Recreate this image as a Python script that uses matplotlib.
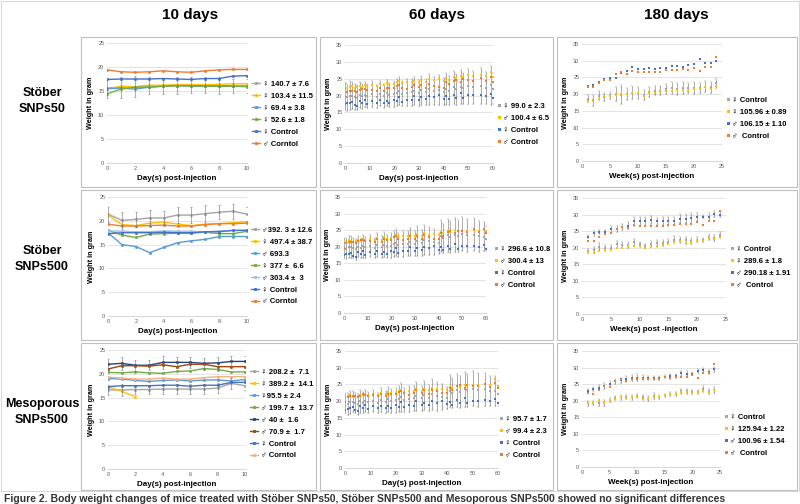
import matplotlib.pyplot as plt
from matplotlib.patches import Rectangle

plt.rcParams["font.family"] = ["Liberation Sans", "DejaVu Sans"]

# ---------------- data ----------------
days10 = [0, 1, 2, 3, 4, 5, 6, 7, 8, 9, 10]

# Stober SNPs50, 10 days
s50_labels = ["♀ 140.7 ± 7.6", "♀ 103.4 ± 11.5", "♀ 69.4 ± 3.8", "♀ 52.6 ± 1.8", "♀ Control", "♂ Corntol"]
s50_gray = [15.6, 15.8, 15.9, 16.1, 16.1, 16.2, 16.2, 16.2, 16.1, 16.0, 16.0]
s50_gray_err = [2.0, 2.2, 2.2, 1.8, 1.7, 1.8, 1.7, 1.7, 1.8, 1.5, 1.4]
s50_yellow = [15.4, 16.0, 15.8, 16.2, 16.2, 16.3, 16.3, 16.3, 16.4, 16.5, 16.5]
s50_lblue = [15.5, 15.6, 15.4, 15.8, 16.0, 16.1, 16.0, 16.0, 16.1, 16.0, 16.0]
s50_green = [14.4, 15.4, 15.8, 15.8, 16.0, 16.1, 16.1, 16.0, 16.0, 16.0, 15.9]
s50_fctrl = [17.4, 17.5, 17.5, 17.5, 17.6, 17.5, 17.4, 17.6, 17.6, 18.1, 18.2]
s50_mctrl = [19.4, 19.0, 18.9, 19.0, 19.2, 19.0, 18.9, 19.2, 19.4, 19.5, 19.5]

# Stober SNPs500, 10 days
s500_labels = ["♂392. 3 ± 12.6", "♀ 497.4 ± 38.7", "♂ 693.3", "♀ 377 ±  6.6", "♂ 303.4 ±  3", "♀ Control", "♂ Corntol"]
s500_gray = [21.4, 20.1, 20.3, 20.6, 20.6, 21.2, 21.2, 21.5, 21.8, 22.0, 21.4]
s500_gray_err = [1.6, 1.8, 1.6, 1.6, 1.5, 1.6, 1.6, 1.8, 1.5, 1.6, 1.4]
s500_yellow = [21.2, 19.2, 19.0, 19.5, 19.7, 19.3, 19.0, 19.3, 19.4, 19.6, 19.8]
s500_blue = [17.5, 15.0, 14.6, 13.3, 14.4, 15.4, 15.8, 16.1, 16.7, 16.7, 16.7]
s500_green = [18.0, 17.0, 16.5, 17.2, 17.3, 17.4, 17.4, 17.6, 17.3, 17.3, 17.8]
s500_lblue = [17.9, 17.8, 17.7, 17.7, 17.9, 17.8, 17.8, 17.6, 17.9, 17.9, 18.0]
s500_fctrl = [17.3, 17.5, 17.5, 17.5, 17.6, 17.5, 17.5, 17.7, 17.7, 18.0, 18.0]
s500_mctrl = [19.3, 18.9, 18.9, 19.0, 19.1, 18.9, 18.9, 19.2, 19.4, 19.4, 19.5]

# Mesoporous SNPs500, 10 days
m500_labels = ["♀ 208.2 ±  7.1", "♀ 389.2 ±  14.1", "♀95.5 ± 2.4", "♂ 199.7 ±  13.7",
               "♂ 40 ±  1.6", "♂ 70.9 ±  1.7", "♀ Control", "♂ Corntol"]
m500_gray = [16.6, 16.6, 16.7, 16.7, 16.8, 16.8, 16.8, 16.8, 17.0, 18.0, 17.5]
m500_gray_err = [1.0, 1.2, 1.0, 1.0, 1.1, 1.0, 1.0, 1.0, 1.0, 1.2, 1.0]
m500_yellow_days = [0, 1, 2]
m500_yellow = [17.3, 16.3, 15.2]
m500_lblue = [19.0, 18.9, 18.6, 18.4, 18.6, 18.7, 18.5, 18.7, 18.7, 18.5, 18.8]
m500_green = [20.3, 20.2, 20.4, 20.2, 20.1, 20.5, 20.6, 21.1, 20.9, 20.4, 20.4]
m500_dblue = [22.0, 22.2, 21.8, 21.8, 22.4, 22.4, 22.4, 22.2, 22.3, 22.6, 22.6]
m500_dblue_err = [1.2, 1.3, 1.2, 1.1, 1.3, 1.2, 1.2, 1.1, 1.2, 1.1, 1.1]
m500_brown = [21.0, 21.7, 21.7, 21.6, 21.9, 21.5, 22.0, 22.0, 21.5, 21.5, 21.5]
m500_fctrl = [17.3, 17.5, 17.5, 17.5, 17.6, 17.6, 17.4, 17.6, 17.6, 18.2, 18.2]
m500_mctrl = [19.3, 19.1, 18.9, 18.9, 19.1, 18.9, 18.9, 19.2, 19.4, 19.4, 19.4]

# 60 days
days60 = [0, 1, 2, 3, 4, 5, 6, 7, 8, 9, 11, 13, 14, 16, 17, 18, 20, 21, 22, 23, 25,
          27, 28, 30, 31, 33, 34, 36, 38, 40, 41, 42, 44, 45, 47, 48, 50, 52, 55, 57, 59, 60]
fctrl60 = [17.4, 17.7, 17.9, 18.1, 17.3, 17.0, 18.4, 17.9, 18.8, 17.6, 18.5, 17.8, 18.6, 17.8,
           18.4, 17.9, 18.7, 18.3, 19.6, 18.1, 18.8, 18.6, 19.9, 18.7, 19.5, 18.9, 20.0, 19.5,
           20.1, 19.0, 19.8, 18.9, 20.3, 19.4, 20.8, 19.4, 20.1, 20.1, 20.2, 20.0, 20.5, 19.4]
mctrl60 = [19.6, 21.1, 21.4, 21.4, 21.5, 21.1, 21.6, 22.0, 21.9, 21.6, 21.8, 21.5, 22.2, 21.4,
           22.2, 22.1, 22.1, 22.8, 23.1, 22.3, 21.9, 22.4, 23.2, 22.4, 23.2, 22.2, 23.4, 22.9,
           22.4, 22.3, 24.0, 23.3, 24.4, 24.7, 24.0, 24.8, 24.6, 24.4, 25.2, 24.3, 25.4, 24.0]

s50_60_labels = ["♀ 99.0 ± 2.3", "♂ 100.4 ± 6.5", "♀ Control", "♂ Control"]
s50_60_f = [19.8, 19.5, 19.9, 20.0, 19.6, 19.4, 20.1, 19.8, 20.3, 19.9, 20.4, 19.6, 20.6, 19.9,
            20.8, 20.2, 20.4, 20.9, 21.3, 20.5, 20.9, 21.0, 21.4, 20.8, 21.6, 21.0, 21.9, 21.4,
            21.6, 21.2, 22.0, 21.5, 22.4, 21.9, 22.6, 22.1, 22.8, 22.5, 22.9, 22.3, 23.1, 22.0]
s50_60_ferr = [4.2, 4.0, 4.3, 4.1, 3.8, 3.6, 3.9, 3.7, 3.8, 3.6, 3.9, 3.4, 3.8, 3.5, 3.9, 3.6,
               3.8, 3.9, 4.1, 3.7, 3.9, 4.0, 4.2, 3.8, 4.3, 3.9, 4.6, 4.2, 4.4, 3.9, 4.8, 4.4,
               5.0, 4.6, 5.1, 4.7, 5.2, 4.9, 5.4, 4.8, 5.8, 4.6]
s50_60_m = [22.6, 22.3, 22.5, 22.7, 22.2, 22.4, 22.8, 22.6, 23.0, 22.8, 23.2, 22.9, 23.4, 23.1,
            23.6, 23.3, 23.5, 23.9, 24.2, 23.6, 24.0, 24.1, 24.4, 24.0, 24.6, 24.1, 24.9, 24.5,
            24.8, 24.4, 25.1, 24.7, 25.5, 25.2, 25.8, 25.4, 26.1, 25.8, 26.2, 25.9, 27.1, 25.5]

s500_60_labels = ["♀ 296.6 ± 10.8", "♂ 300.4 ± 13", "♀ Control", "♂ Control"]
s500_60_f = [19.6, 19.4, 19.8, 19.9, 19.5, 19.2, 20.0, 19.7, 20.1, 19.8, 20.2, 19.5, 20.4, 19.8,
             20.6, 20.1, 20.3, 20.8, 21.2, 20.4, 20.7, 20.9, 21.5, 20.9, 21.8, 21.1, 22.1, 21.6,
             21.4, 21.0, 23.2, 22.6, 23.4, 23.0, 23.6, 23.3, 23.8, 23.4, 23.6, 23.1, 23.0, 22.4]
s500_60_ferr = [3.0, 3.1, 3.3, 3.2, 3.0, 3.1, 3.2, 3.0, 3.4, 3.2, 3.3, 3.0, 3.6, 3.3, 3.8, 3.4,
                3.7, 3.9, 4.1, 3.6, 3.9, 3.8, 4.2, 3.8, 4.5, 3.9, 4.6, 4.2, 3.8, 3.2, 4.8, 4.4,
                5.0, 4.8, 5.1, 4.9, 5.2, 5.0, 5.0, 4.6, 4.4, 3.8]
s500_60_m = [21.8, 21.5, 21.9, 21.7, 21.4, 21.6, 22.0, 21.8, 22.2, 21.9, 22.3, 22.0, 22.5, 22.1,
             22.8, 22.4, 22.6, 23.0, 23.4, 22.8, 23.1, 23.2, 23.6, 23.1, 23.8, 23.3, 24.0, 23.6,
             23.8, 23.4, 24.4, 24.0, 24.6, 24.3, 24.9, 24.6, 25.0, 24.8, 25.1, 24.8, 25.3, 24.6]

m500_60_labels = ["♀ 95.7 ± 1.7", "♂ 99.4 ± 2.3", "♀ Control", "♂ Control"]
m500_60_f = [19.4, 19.2, 19.6, 19.8, 19.4, 19.0, 19.9, 19.5, 20.0, 19.6, 20.1, 19.4, 20.3, 19.7,
             20.5, 20.0, 20.2, 20.7, 21.1, 20.3, 20.6, 20.8, 21.4, 20.8, 21.7, 21.0, 22.0, 21.5,
             21.3, 20.9, 23.0, 22.4, 23.2, 22.8, 23.5, 23.2, 23.7, 23.3, 23.5, 23.0, 22.9, 22.2]
m500_60_ferr = [3.0, 3.2, 3.3, 3.1, 3.0, 3.0, 3.3, 3.1, 3.3, 3.2, 3.2, 3.0, 3.5, 3.3, 3.8, 3.5,
                3.6, 3.9, 4.2, 3.6, 3.8, 3.8, 4.3, 3.8, 4.4, 3.9, 4.6, 4.3, 3.8, 3.2, 4.8, 4.5,
                5.0, 4.8, 5.2, 4.9, 5.2, 5.1, 5.0, 4.6, 4.5, 3.8]
m500_60_m = [21.6, 21.4, 21.7, 21.6, 21.3, 21.5, 21.9, 21.7, 22.1, 21.8, 22.2, 21.9, 22.4, 22.0,
             22.7, 22.3, 22.5, 22.9, 23.3, 22.7, 23.0, 23.1, 23.5, 23.0, 23.7, 23.2, 23.9, 23.5,
             23.7, 23.3, 24.3, 23.9, 24.5, 24.2, 24.8, 24.5, 24.9, 24.7, 25.0, 24.7, 26.6, 24.5]

# 180 days (weeks)
weeks = [1, 2, 3, 4, 5, 6, 7, 8, 9, 10, 11, 12, 13, 14, 15, 16, 17, 18, 19, 20, 21, 22, 23, 24]

s50_180_labels = ["♀ Control", "♀ 105.96 ± 0.89", "♂ 106.15 ± 1.10", "♂  Control"]
s50_180_fc = [18.6, 18.2, 19.5, 19.2, 19.6, 20.0, 19.8, 20.0, 20.4, 20.2, 19.8, 20.6,
              21.0, 21.0, 21.6, 21.8, 21.6, 21.8, 21.8, 21.8, 21.8, 22.2, 22.0, 23.2]
s50_180_fc_err = [1.0, 1.6, 1.4, 1.2, 1.0, 2.0, 2.8, 1.8, 2.0, 1.8, 1.5, 1.6,
                  1.4, 1.4, 1.5, 1.8, 1.8, 1.8, 1.6, 1.8, 1.6, 1.6, 1.6, 1.4]
s50_180_ft = [18.0, 17.9, 18.4, 19.4, 19.4, 19.8, 20.1, 20.0, 20.2, 20.2, 19.5, 20.3,
              20.3, 20.6, 20.8, 20.9, 21.1, 21.2, 21.0, 21.6, 21.6, 22.0, 21.6, 22.5]
s50_180_mt = [22.5, 22.8, 23.7, 24.5, 24.8, 24.9, 26.3, 26.9, 28.0, 27.6, 27.6, 27.8,
              27.5, 27.8, 27.9, 28.4, 28.4, 28.2, 28.7, 29.0, 30.4, 29.2, 29.3, 29.8]
s50_180_mc = [22.1, 22.0, 23.2, 24.3, 24.3, 26.0, 26.5, 26.0, 26.8, 26.5, 26.6, 26.6,
              26.6, 26.6, 27.1, 27.1, 27.2, 27.4, 27.3, 27.8, 26.8, 28.0, 28.2, 31.0]

s500_180_labels = ["♀ Control", "♀ 289.6 ± 1.8", "♂ 290.18 ± 1.91", "♂  Control"]
s500_180_fc = [19.0, 19.3, 20.3, 19.9, 20.0, 21.0, 20.8, 20.8, 21.6, 21.0, 20.5, 21.2,
               21.3, 21.4, 21.8, 22.4, 22.2, 22.2, 22.0, 22.4, 22.2, 23.2, 22.9, 23.8]
s500_180_fc_err = [0.7, 0.9, 1.0, 0.8, 0.8, 1.0, 1.0, 0.8, 1.0, 0.8, 0.7, 0.8,
                   1.0, 0.9, 0.8, 1.0, 0.9, 1.0, 1.0, 0.8, 0.6, 0.9, 0.8, 1.0]
s500_180_ft = [18.7, 18.5, 19.0, 19.3, 19.4, 19.8, 20.0, 20.4, 20.5, 20.4, 20.0, 20.3,
               20.5, 20.8, 21.2, 21.8, 22.0, 21.5, 21.8, 22.4, 22.0, 23.0, 22.6, 23.2]
s500_180_mt = [23.3, 24.3, 24.6, 24.8, 25.5, 25.6, 26.3, 26.7, 28.0, 28.0, 28.0, 28.3,
               28.0, 28.0, 28.0, 28.2, 28.8, 28.8, 29.0, 29.3, 29.4, 29.4, 30.2, 30.0]
s500_180_mt_err = [0.5, 0.7, 0.6, 0.6, 1.0, 0.9, 1.0, 1.2, 1.3, 1.3, 1.4, 1.2,
                   1.0, 1.2, 1.3, 1.2, 1.4, 1.4, 1.5, 1.2, 0.5, 1.0, 0.8, 0.8]
s500_180_mc = [22.0, 22.0, 23.1, 24.2, 24.3, 25.7, 26.4, 25.8, 26.8, 26.6, 26.7, 26.6,
               26.7, 26.6, 27.0, 27.0, 27.2, 27.3, 27.2, 27.9, 26.8, 28.2, 28.2, 31.0]

m500_180_labels = ["♀ Control", "♀ 125.94 ± 1.22", "♂ 100.96 ± 1.54", "♂  Control"]
m500_180_fc = [19.2, 19.2, 19.4, 19.3, 20.2, 20.8, 21.0, 21.0, 21.0, 21.4, 21.0, 20.6,
               21.4, 21.2, 21.6, 22.0, 22.0, 22.8, 22.8, 22.6, 22.6, 23.5, 22.8, 23.2]
m500_180_fc_err = [0.7, 0.6, 1.0, 0.9, 0.5, 0.6, 0.7, 0.6, 0.7, 0.7, 0.8, 0.8,
                   0.8, 0.6, 0.5, 0.6, 0.5, 0.8, 0.7, 0.5, 0.6, 1.0, 0.8, 0.8]
m500_180_ft = [19.5, 19.3, 19.8, 19.2, 20.2, 20.6, 21.2, 20.8, 21.0, 21.2, 20.4, 20.6,
               21.0, 21.2, 21.6, 22.0, 22.0, 22.5, 22.5, 22.4, 22.3, 23.0, 22.6, 23.2]
m500_180_mt = [22.9, 23.4, 23.9, 24.5, 25.0, 25.8, 26.2, 26.6, 26.8, 27.0, 26.9, 26.8,
               27.0, 26.8, 27.3, 27.4, 27.5, 28.3, 28.2, 28.2, 29.0, 29.2, 28.7, 29.5]
m500_180_mt_err = [0.5, 0.6, 0.8, 0.9, 1.0, 0.8, 0.8, 1.0, 1.0, 1.0, 0.8, 0.7,
                   0.6, 0.6, 0.5, 0.7, 0.6, 0.8, 0.7, 0.5, 0.5, 0.8, 0.6, 0.7]
m500_180_mc = [22.2, 22.0, 23.3, 24.4, 24.2, 25.9, 26.5, 26.0, 26.7, 26.5, 26.5, 26.6,
               26.5, 26.6, 27.1, 27.0, 27.2, 27.3, 27.2, 27.9, 26.8, 28.3, 28.5, 31.0]

col_titles = ["10 days", "60 days", "180 days"]
row_titles = ["Stöber\nSNPs50", "Stöber\nSNPs500", "Mesoporous\nSNPs500"]

# Excel-like colours
GRAY, YELLOW, BLUE, ORANGE = "#A5A5A5", "#FFC000", "#4472C4", "#ED7D31"
LBLUE, GREEN, DBLUE, BROWN = "#5B9BD5", "#70AD47", "#264478", "#9E480E"
ERR = "#6E6E6E"

W, H = 800, 504
fig = plt.figure(figsize=(8, 5.04), dpi=100, facecolor="white")


def px_axes(l, t, r, b):
    return fig.add_axes([l / W, 1 - b / H, (r - l) / W, (b - t) / H])


def style(ax, xmax, ymax, xlabel, xstep):
    ax.set_xlim(0, xmax)
    ax.set_ylim(0, ymax)
    ax.set_xticks(range(0, xmax + 1, xstep))
    ax.set_yticks(range(0, ymax + 1, 5))
    ax.grid(axis="y", color="#D9D9D9", lw=0.5)
    ax.set_axisbelow(True)
    for s in ["top", "right", "left"]:
        ax.spines[s].set_visible(False)
    ax.spines["bottom"].set_color("#D9D9D9")
    ax.tick_params(length=0, labelsize=4, labelcolor="#595959", pad=2)
    ax.set_ylabel("Weight in gram", fontsize=5.2, fontweight="bold", labelpad=3)
    ax.set_xlabel(xlabel, fontsize=5.8, fontweight="bold", labelpad=3)


def legend(ax, x, y, lines=True):
    ax.legend(loc="center left", bbox_to_anchor=(x / W, 1 - y / H),
              bbox_transform=fig.transFigure, frameon=False, markerscale=1.2,
              prop={"size": 5.5, "weight": "bold"}, handlelength=1.1 if lines else 0.5,
              handletextpad=0.35, labelspacing=0.6, borderaxespad=0, borderpad=0)


def panel10(box, series, labels, err, leg_xy, xlabel="Day(s) post-injection"):
    ax = px_axes(*box)
    for (x, y, c), lab in zip(series, labels):
        ax.plot(x, y, color=c, lw=1, marker="s", ms=1.0, label=lab)
    for x, y, e in err:
        ax.errorbar(x, y, yerr=e, fmt="none", ecolor=ERR, elinewidth=0.4, capsize=1, capthick=0.4)
    style(ax, 10, 25, xlabel, 2)
    legend(ax, *leg_xy)


def panel_pts(box, series, labels, err, leg_xy, xmax, xstep, xlabel):
    ax = px_axes(*box)
    for x, y, e in err:
        ax.errorbar(x, y, yerr=e, fmt="none", ecolor=ERR, elinewidth=0.4, capsize=0.7, capthick=0.3)
    for (x, y, c), lab in zip(series, labels):
        ax.plot(x, y, ls="none", color=c, marker="s", ms=1.8, mew=0, label=lab)
    style(ax, xmax, 35, xlabel, xstep)
    legend(ax, *leg_xy, lines=False)


# ---------------- frames and titles ----------------
frames_x = [(81, 316), (320, 553), (557, 797)]
frames_y = [(37, 187), (190, 340), (343, 490)]
for fx0, fx1 in frames_x:
    for fy0, fy1 in frames_y:
        fig.patches.append(Rectangle((fx0 / W, 1 - fy1 / H), (fx1 - fx0) / W, (fy1 - fy0) / H,
                                     transform=fig.transFigure, fill=False, ec="#BFBFBF", lw=0.8))
fig.patches.append(Rectangle((1 / W, 1 - 491 / H), 798 / W, 490 / H, transform=fig.transFigure,
                             fill=False, ec="#D0D0D0", lw=0.6))

for title, cx in zip(col_titles, [190, 437, 676]):
    fig.text(cx / W, 1 - 15 / H, title, ha="center", va="center", fontsize=11, fontweight="bold")
for title, cy in zip(row_titles, [101, 259, 412]):
    fig.text(42 / W, 1 - cy / H, title, ha="center", va="center", fontsize=9,
             fontweight="bold", linespacing=1.35)

# ---------------- 10 day panels ----------------
panel10((107, 43, 247, 163),
        [(days10, s50_gray, GRAY), (days10, s50_yellow, YELLOW), (days10, s50_lblue, LBLUE),
         (days10, s50_green, GREEN), (days10, s50_fctrl, BLUE), (days10, s50_mctrl, ORANGE)],
        s50_labels, [(days10, s50_gray, s50_gray_err)], (252, 114))

panel10((108, 197, 247, 316),
        [(days10, s500_gray, GRAY), (days10, s500_yellow, YELLOW), (days10, s500_blue, LBLUE),
         (days10, s500_green, GREEN), (days10, s500_lblue, "#9DC3E6"),
         (days10, s500_fctrl, BLUE), (days10, s500_mctrl, ORANGE)],
        s500_labels, [(days10, s500_gray, s500_gray_err)], (251, 266))

panel10((108, 350, 245, 469),
        [(days10, m500_gray, GRAY), (m500_yellow_days, m500_yellow, YELLOW), (days10, m500_lblue, LBLUE),
         (days10, m500_green, GREEN), (days10, m500_dblue, DBLUE), (days10, m500_brown, BROWN),
         (days10, m500_fctrl, BLUE), (days10, m500_mctrl, "#F4B183")],
        m500_labels, [(days10, m500_gray, m500_gray_err), (days10, m500_dblue, m500_dblue_err)],
        (250, 414))

# ---------------- 60 day panels ----------------
for box, f, ferr, m, labs, leg in [
    ((345, 45, 493, 163), s50_60_f, s50_60_ferr, s50_60_m, s50_60_labels, (497, 124)),
    ((344, 197, 486, 313), s500_60_f, s500_60_ferr, s500_60_m, s500_60_labels, (494, 267)),
    ((345, 351, 498, 468), m500_60_f, m500_60_ferr, m500_60_m, m500_60_labels, (499, 437)),
]:
    panel_pts(box, [(days60, f, GRAY), (days60, m, YELLOW), (days60, fctrl60, BLUE), (days60, mctrl60, ORANGE)],
              labs, [(days60, f, ferr)], leg, 60, 10, "Day(s) post-injection")

# ---------------- 180 day panels ----------------
panel_pts((582, 44, 722, 161),
          [(weeks, s50_180_fc, GRAY), (weeks, s50_180_ft, YELLOW), (weeks, s50_180_mt, BLUE), (weeks, s50_180_mc, ORANGE)],
          s50_180_labels, [(weeks, s50_180_fc, s50_180_fc_err)], (726, 118), 25, 5, "Week(s) post-injection")
panel_pts((582, 198, 726, 314),
          [(weeks, s500_180_fc, GRAY), (weeks, s500_180_ft, YELLOW), (weeks, s500_180_mt, BLUE), (weeks, s500_180_mc, ORANGE)],
          s500_180_labels, [(weeks, s500_180_fc, s500_180_fc_err), (weeks, s500_180_mt, s500_180_mt_err)],
          (730, 267), 25, 5, "Week(s) post -injection")
panel_pts((582, 351, 720, 467),
          [(weeks, m500_180_fc, GRAY), (weeks, m500_180_ft, YELLOW), (weeks, m500_180_mt, BLUE), (weeks, m500_180_mc, ORANGE)],
          m500_180_labels, [(weeks, m500_180_fc, m500_180_fc_err), (weeks, m500_180_mt, m500_180_mt_err)],
          (724, 435), 25, 5, "Week(s) post-injection")

# caption, cut off at the bottom edge like the reference
fig.text(4 / W, 1 - 494 / H,
         "Figure 2. Body weight changes of mice treated with Stöber SNPs50, Stöber SNPs500 and Mesoporous SNPs500 showed no significant differences",
         ha="left", va="top", fontsize=7.5, fontweight="bold", color="#333333")

fig.savefig("out.png", dpi=100, facecolor="white")
